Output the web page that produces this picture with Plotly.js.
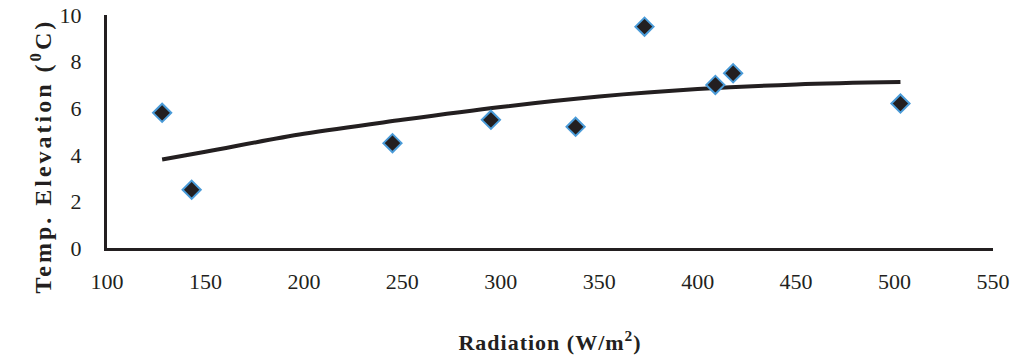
<!DOCTYPE html>
<html>
<head>
<meta charset="utf-8">
<script src="https://cdn.plot.ly/plotly-3.0.1.min.js"></script>
<style>
html,body{margin:0;padding:0;background:#fff;}
#chart{width:1019px;height:360px;}
#chart .xtitle{letter-spacing:1px;}
#chart .annotation-text{letter-spacing:3px;}
</style>
</head>
<body>
<div id="chart"></div>
<script>
// Observed data points
var radiation = [128, 143, 245, 295, 338, 373, 409, 418, 503];
var tempElevation = [5.8, 2.5, 4.5, 5.5, 5.2, 9.5, 7.0, 7.5, 6.2];
// Trend line
var trendX = [128, 150, 200, 250, 300, 350, 400, 450, 503];
var trendY = [3.8, 4.13, 4.9, 5.5, 6.05, 6.5, 6.82, 7.02, 7.12];
// Tick labels
var xTicks = [100, 150, 200, 250, 300, 350, 400, 450, 500, 550];
var yTicks = [0, 2, 4, 6, 8, 10];

var traces = [
  {
    x: trendX, y: trendY, type: 'scatter', mode: 'lines',
    line: {color: '#231f20', width: 4, shape: 'spline'},
    hoverinfo: 'skip', showlegend: false
  },
  {
    x: radiation, y: tempElevation, type: 'scatter', mode: 'markers',
    marker: {symbol: 'diamond', size: 14, color: '#231f20', line: {color: '#4a9bd8', width: 2}},
    showlegend: false
  }
];

var serif = '"Liberation Serif", "Times New Roman", serif';
var tickFont = {family: serif, size: 22, color: '#231f20'};

var layout = {
  width: 1019, height: 360,
  margin: {l: 107, r: 26, t: 15, b: 112},
  paper_bgcolor: '#ffffff', plot_bgcolor: '#ffffff',
  showlegend: false,
  xaxis: {
    range: [100, 550], tickvals: xTicks, ticktext: xTicks.map(String),
    showgrid: false, zeroline: false,
    showline: true, linecolor: '#231f20', linewidth: 3,
    ticks: 'outside', ticklen: 12, tickcolor: 'rgba(0,0,0,0)',
    tickfont: tickFont,
    title: {text: '<b>Radiation (W/m<sup>2</sup>)</b>', font: {family: serif, size: 22, color: '#231f20'}, standoff: 42}
  },
  yaxis: {
    range: [0, 10], tickvals: yTicks, ticktext: yTicks.map(String),
    showgrid: false, zeroline: false,
    showline: true, linecolor: '#231f20', linewidth: 3,
    ticks: 'outside', ticklen: 18, tickcolor: 'rgba(0,0,0,0)',
    tickfont: tickFont
  },
  annotations: [{
    text: '<b>Temp. Elevation (<sup>0</sup>C)</b>',
    xref: 'paper', yref: 'paper', x: -0.075, y: 0.395,
    xanchor: 'center', yanchor: 'middle', textangle: -90, showarrow: false,
    font: {family: serif, size: 24, color: '#231f20'}
  }]
};

Plotly.newPlot('chart', traces, layout, {displayModeBar: false, staticPlot: true});
</script>
</body>
</html>
